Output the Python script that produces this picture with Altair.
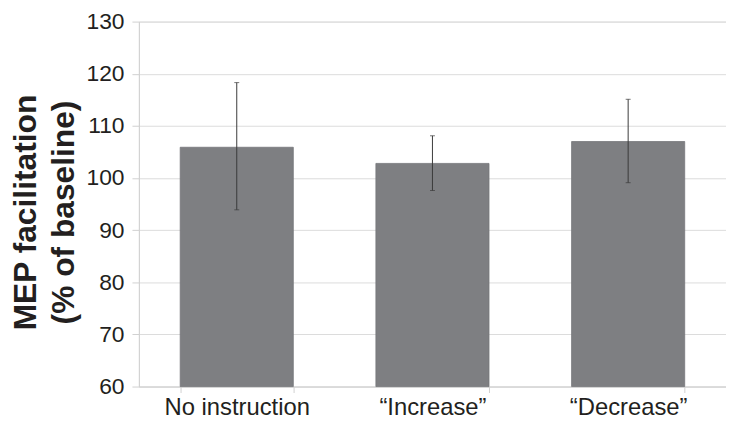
import altair as alt
import pandas as pd

categories = ["No instruction", "\u201cIncrease\u201d", "\u201cDecrease\u201d"]
means = [105.9, 102.8, 107.0]
err_low = [93.9, 97.6, 99.1]
err_high = [118.3, 108.1, 115.1]

df = pd.DataFrame({"cat": categories, "mean": means, "lo": err_low, "hi": err_high})

x = alt.X("cat:N", sort=categories, title=None,
          scale=alt.Scale(paddingInner=0.422, paddingOuter=0.211),
          axis=alt.Axis(labelAngle=0, labelFontSize=24, labelColor="#231f20",
                        labelFont="Liberation Sans", labelPadding=3,
                        tickBand="extent", tickSize=6, tickColor="#d0d0d0",
                        domainColor="#d0d0d0", grid=False))
yscale = alt.Scale(domain=[60, 130], zero=False, nice=False)

bars = alt.Chart(df).mark_bar(color="#7e7f82", stroke="#76777a", strokeWidth=0.8).encode(
    x=x,
    y=alt.Y("mean:Q", scale=yscale, title=["MEP facilitation", "(% of baseline)"],
            axis=alt.Axis(values=list(range(60, 131, 10)), labelFontSize=23,
                          labelColor="#231f20", labelFont="Liberation Sans",
                          labelPadding=8, tickSize=7, tickColor="#d0d0d0",
                          domainColor="#d0d0d0", gridColor="#dcdcdc",
                          titleFontSize=32, titleFont="Liberation Sans",
                          titleFontWeight="bold", titleColor="#231f20",
                          titlePadding=6, titleLineHeight=38, titleY=192)),
    y2=alt.datum(60),
)

rules = alt.Chart(df).mark_rule(color="#3a3a3a", strokeWidth=1).encode(
    x=alt.X("cat:N", sort=categories),
    y=alt.Y("lo:Q", scale=yscale),
    y2="hi:Q",
)
caps_hi = alt.Chart(df).mark_tick(color="#3a3a3a", thickness=1, size=5).encode(
    x=alt.X("cat:N", sort=categories), y=alt.Y("hi:Q", scale=yscale))
caps_lo = alt.Chart(df).mark_tick(color="#3a3a3a", thickness=1, size=5).encode(
    x=alt.X("cat:N", sort=categories), y=alt.Y("lo:Q", scale=yscale))

chart = (bars + rules + caps_hi + caps_lo).properties(
    width=592, height=368,
    autosize=alt.AutoSizeParams(type="none"),
    padding={"left": 132, "top": 12, "right": 0, "bottom": 32},
).configure_view(stroke=None).configure(font="Liberation Sans")

chart.save("out.html", embed_options={"renderer": "svg", "actions": False})
